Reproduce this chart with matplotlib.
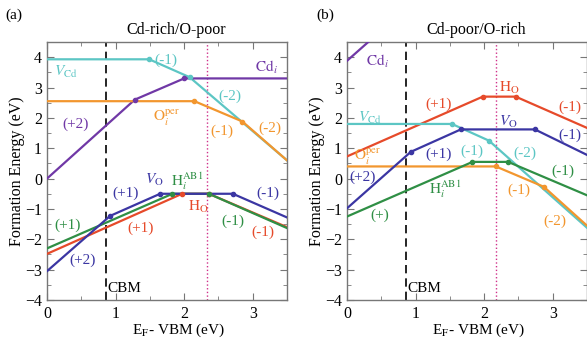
import matplotlib
matplotlib.use("Agg")
import matplotlib.pyplot as plt
from matplotlib.ticker import MultipleLocator

plt.rcParams['font.family'] = ['Liberation Serif', 'DejaVu Serif']
plt.rcParams['mathtext.fontset'] = 'stix'

# ---------------- data (breakpoints of formation-energy lines) ----------------
# Panel (a): Cd-rich/O-poor
a_VCd_x = [0, 1.49, 2.08, 3.5];         a_VCd_y = [3.93, 3.93, 3.34, 0.6]
a_Cdi_x = [0, 1.28, 2.0, 3.5];          a_Cdi_y = [0.0, 2.6, 3.3, 3.3]
a_Oi_x = [0, 2.15, 2.85, 3.5];          a_Oi_y = [2.55, 2.55, 1.88, 0.6]
a_VO_x = [0, 0.92, 1.65, 2.71, 3.5];    a_VO_y = [-3.05, -1.23, -0.5, -0.5, -1.28]
a_Hi_x = [0, 1.83, 2.36, 3.5];          a_Hi_y = [-2.3, -0.5, -0.5, -1.63]
a_HO_x = [0, 1.97, 2.36, 3.5];          a_HO_y = [-2.48, -0.5, -0.5, -1.6]
a_dotted = 2.34

# Panel (b): Cd-poor/O-rich
b_Cdi_x = [0, 0.35];                    b_Cdi_y = [3.88, 4.58]
b_HO_x = [0, 1.98, 2.46, 3.5];          b_HO_y = [0.73, 2.7, 2.7, 1.67]
b_VCd_x = [0, 1.53, 2.07, 3.5];         b_VCd_y = [1.8, 1.8, 1.25, -1.62]
b_VO_x = [0, 0.93, 1.66, 2.74, 3.5];    b_VO_y = [-0.98, 0.88, 1.62, 1.62, 0.78]
b_Oi_x = [0, 2.17, 2.87, 3.5];          b_Oi_y = [0.4, 0.4, -0.27, -1.55]
b_Hi_x = [0, 1.83, 2.35, 3.5];          b_Hi_y = [-1.25, 0.55, 0.55, -0.55]
b_dotted = 2.17

cbm = 0.86

C_CYAN = '#5cc6c4'
C_PURP = '#7038a6'
C_ORNG = '#f2962e'
C_BLUE = '#3b36a3'
C_GRN = '#2f8f45'
C_RED = '#e64a2a'

fig = plt.figure(figsize=(5.87, 3.38), dpi=100)
axa = fig.add_axes([47/587, 1-300/338, 240/587, 258/338])
axb = fig.add_axes([347/587, 1-300/338, 240/587, 258/338])


def draw(ax, x, y, c, dots=True):
    ax.plot(x, y, '-', color=c, lw=1.6, zorder=3, clip_on=True)
    if dots:
        ax.plot(x[1:-1], y[1:-1], 'o', color=c, ms=3, zorder=4)


def style(ax, dotted, title):
    ax.set_xlim(0, 3.5)
    ax.set_ylim(-4, 4.5)
    ax.xaxis.set_major_locator(MultipleLocator(1))
    ax.xaxis.set_minor_locator(MultipleLocator(0.5))
    ax.yaxis.set_major_locator(MultipleLocator(1))
    ax.yaxis.set_minor_locator(MultipleLocator(0.5))
    ax.tick_params(which='both', direction='in', top=True, right=True,
                   color='#777777', labelsize=11.5)
    ax.tick_params(axis='x', which='both', pad=4)
    ax.tick_params(axis='y', which='both', pad=3.5)
    ax.tick_params(which='major', length=5)
    ax.tick_params(which='minor', length=3)
    for s in ax.spines.values():
        s.set_color('#777777')
        s.set_linewidth(1.0)
    ax.axvline(cbm, color='black', ls=(0, (5, 3)), lw=1.2, zorder=2)
    ax.axvline(dotted, color='#d0308a', ls=':', lw=1.0, zorder=2)
    ax.text(cbm + 0.02, -3.62, 'CBM', fontsize=11, ha='left', va='center')
    ax.set_title(title, fontsize=11.5, pad=6, x=0.54)
    ax.set_xlabel(r'E$_{\rm F}$- VBM (eV)', fontsize=11, labelpad=1)
    ax.xaxis.set_label_coords(0.55, -0.083)
    ax.set_ylabel('Formation Energy (eV)', fontsize=11.5, labelpad=0)


# ---------------- panel (a) ----------------
draw(axa, a_VCd_x, a_VCd_y, C_CYAN)
draw(axa, a_Cdi_x, a_Cdi_y, C_PURP)
draw(axa, a_Oi_x, a_Oi_y, C_ORNG)
draw(axa, a_HO_x, a_HO_y, C_RED)
draw(axa, a_Hi_x, a_Hi_y, C_GRN)
draw(axa, a_VO_x, a_VO_y, C_BLUE)
style(axa, a_dotted, 'Cd-rich/O-poor')

fs = 11
axa.text(0.27, 3.5, r'$V_{\rm Cd}$', color=C_CYAN, fontsize=fs, ha='center', va='center')
axa.text(1.74, 3.9, '(-1)', color=C_CYAN, fontsize=fs, ha='center', va='center')
axa.text(3.2, 3.65, r'$\mathrm{Cd}_i$', color=C_PURP, fontsize=fs, ha='center', va='center')
axa.text(2.66, 2.7, '(-2)', color=C_CYAN, fontsize=fs, ha='center', va='center')
axa.text(1.74, 2.0, r'$\mathrm{O}_i^{\rm per}$', color=C_ORNG, fontsize=fs, ha='center', va='center')
axa.text(2.55, 1.55, '(-1)', color=C_ORNG, fontsize=fs, ha='center', va='center')
axa.text(3.25, 1.65, '(-2)', color=C_ORNG, fontsize=fs, ha='center', va='center')
axa.text(0.42, 1.8, '(+2)', color=C_PURP, fontsize=fs, ha='center', va='center')
axa.text(1.57, -0.05, r'$V_{\rm O}$', color=C_BLUE, fontsize=fs, ha='center', va='center')
axa.text(1.15, -0.48, '(+1)', color=C_BLUE, fontsize=fs, ha='center', va='center')
axa.text(2.05, -0.1, r'$\mathrm{H}_i^{\rm AB1}$', color=C_GRN, fontsize=fs, ha='center', va='center')
axa.text(2.2, -0.93, r'$\mathrm{H}_{\rm O}$', color=C_RED, fontsize=fs, ha='center', va='center')
axa.text(0.3, -1.53, '(+1)', color=C_GRN, fontsize=fs, ha='center', va='center')
axa.text(1.37, -1.63, '(+1)', color=C_RED, fontsize=fs, ha='center', va='center')
axa.text(0.52, -2.68, '(+2)', color=C_BLUE, fontsize=fs, ha='center', va='center')
axa.text(3.22, -0.48, '(-1)', color=C_BLUE, fontsize=fs, ha='center', va='center')
axa.text(2.71, -1.4, '(-1)', color=C_GRN, fontsize=fs, ha='center', va='center')
axa.text(3.15, -1.76, '(-1)', color=C_RED, fontsize=fs, ha='center', va='center')

# ---------------- panel (b) ----------------
draw(axb, b_Cdi_x, b_Cdi_y, C_PURP, dots=False)
draw(axb, b_HO_x, b_HO_y, C_RED)
draw(axb, b_VCd_x, b_VCd_y, C_CYAN)
draw(axb, b_Oi_x, b_Oi_y, C_ORNG)
draw(axb, b_Hi_x, b_Hi_y, C_GRN)
draw(axb, b_VO_x, b_VO_y, C_BLUE)
style(axb, b_dotted, 'Cd-poor/O-rich')

axb.text(0.44, 3.85, r'$\mathrm{Cd}_i$', color=C_PURP, fontsize=fs, ha='center', va='center')
axb.text(2.37, 3.0, r'$\mathrm{H}_{\rm O}$', color=C_RED, fontsize=fs, ha='center', va='center')
axb.text(1.33, 2.45, '(+1)', color=C_RED, fontsize=fs, ha='center', va='center')
axb.text(3.25, 2.35, '(-1)', color=C_RED, fontsize=fs, ha='center', va='center')
axb.text(0.33, 2.0, r'$V_{\rm Cd}$', color=C_CYAN, fontsize=fs, ha='center', va='center')
axb.text(2.35, 1.85, r'$V_{\rm O}$', color=C_BLUE, fontsize=fs, ha='center', va='center')
axb.text(3.25, 1.43, '(-1)', color=C_BLUE, fontsize=fs, ha='center', va='center')
axb.text(1.33, 0.8, '(+1)', color=C_BLUE, fontsize=fs, ha='center', va='center')
axb.text(1.82, 0.9, '(-1)', color=C_CYAN, fontsize=fs, ha='center', va='center')
axb.text(2.6, 0.85, '(-2)', color=C_CYAN, fontsize=fs, ha='center', va='center')
axb.text(0.3, 0.7, r'$\mathrm{O}_i^{\rm per}$', color=C_ORNG, fontsize=fs, ha='center', va='center')
axb.text(0.23, 0.04, '(+2)', color=C_BLUE, fontsize=fs, ha='center', va='center')
axb.text(1.43, -0.35, r'$\mathrm{H}_i^{\rm AB1}$', color=C_GRN, fontsize=fs, ha='center', va='center')
axb.text(0.48, -1.2, '(+)', color=C_GRN, fontsize=fs, ha='center', va='center')
axb.text(3.15, 0.25, '(-1)', color=C_GRN, fontsize=fs, ha='center', va='center')
axb.text(2.5, -0.4, '(-1)', color=C_ORNG, fontsize=fs, ha='center', va='center')
axb.text(3.03, -1.4, '(-2)', color=C_ORNG, fontsize=fs, ha='center', va='center')

fig.text(5/587, 1-15/338, '(a)', fontsize=11, ha='left', va='center')
fig.text(316/587, 1-15/338, '(b)', fontsize=11, ha='left', va='center')

fig.savefig('out.png', dpi=100)
